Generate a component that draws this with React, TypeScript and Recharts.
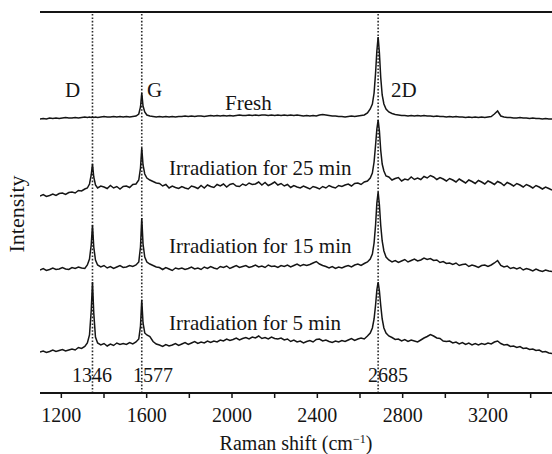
import React from "react";
import { LineChart, Line, XAxis, YAxis, ReferenceLine } from "recharts";

// Raman shift grid (cm^-1)
const wavenumber = [
  1100, 1115, 1130, 1145, 1160, 1175, 1190, 1205, 1220, 1235,
  1250, 1265, 1280, 1295, 1310, 1322, 1332, 1340, 1346, 1352,
  1360, 1370, 1385, 1400, 1415, 1430, 1445, 1460, 1475, 1490,
  1505, 1520, 1535, 1550, 1563, 1571, 1577, 1583, 1591, 1601,
  1615, 1630, 1645, 1660, 1675, 1690, 1705, 1720, 1735, 1750,
  1765, 1780, 1795, 1810, 1825, 1840, 1855, 1870, 1885, 1900,
  1915, 1930, 1945, 1960, 1975, 1990, 2005, 2020, 2035, 2050,
  2065, 2080, 2095, 2110, 2125, 2140, 2155, 2170, 2185, 2200,
  2215, 2230, 2245, 2260, 2275, 2290, 2305, 2320, 2335, 2350,
  2365, 2380, 2395, 2410, 2425, 2440, 2455, 2470, 2485, 2500,
  2515, 2530, 2545, 2560, 2575, 2590, 2605, 2620, 2635, 2648,
  2658, 2666, 2673, 2679, 2685, 2691, 2697, 2704, 2712, 2722,
  2735, 2750, 2765, 2780, 2795, 2810, 2825, 2840, 2855, 2870,
  2885, 2900, 2915, 2930, 2945, 2960, 2975, 2990, 3005, 3020,
  3035, 3050, 3065, 3080, 3095, 3110, 3125, 3140, 3155, 3170,
  3185, 3200, 3215, 3230, 3245, 3260, 3275, 3290, 3305, 3320,
  3335, 3350, 3365, 3380, 3395, 3410, 3425, 3440, 3455, 3470,
  3485, 3500,
];

// Intensity (stacked, arbitrary units)
const fresh = [
  274, 274.5, 274, 275, 274.5, 275, 274.5, 275, 275.5, 275,
  275, 275.5, 275, 275.5, 276, 275.5, 276, 275.5, 276, 275.5,
  276, 275.5, 276, 276.5, 276, 276, 276.5, 276, 276.5, 276,
  276.5, 276, 276.5, 277, 279, 286, 300, 287, 281, 278,
  277, 276.5, 276, 276.5, 276, 276.5, 276, 276.5, 276, 276.5,
  276.5, 277, 276.5, 277, 276.5, 277, 277, 276.5, 277, 277.5,
  277, 277.5, 277, 277.5, 277, 277.5, 277, 277.5, 278, 277.5,
  277.5, 278, 277.5, 278, 277.5, 278, 278, 277.5, 278, 277.5,
  278, 277.5, 278, 277.5, 278, 277.5, 278, 277.5, 277, 277.5,
  277, 277.5, 277, 278, 278.5, 278, 277.5, 277, 277, 276.5,
  276.5, 276, 276.5, 277, 276.5, 277, 277.5, 278, 280, 284,
  289, 300, 320, 342, 356, 340, 316, 298, 289, 284,
  281, 279.5, 278.5, 278, 277.5, 277.5, 277, 277.5, 277, 277.5,
  277, 277.5, 277, 277, 276.5, 277, 276.5, 276.5, 276, 276.5,
  276, 276.5, 276, 276, 275.5, 276, 275.5, 276, 275.5, 276,
  275.5, 276, 276.5, 279, 282, 277, 276, 275.5, 275.5, 275,
  275, 275.5, 275, 275, 274.5, 275, 274.5, 274.5, 274, 274.5,
  274, 274,
];

const irr25 = [
  197, 198.5, 196.5, 197.5, 199, 197.5, 199.5, 200, 198.5, 200.5,
  201, 200, 202.5, 202, 204, 205, 209, 218, 229, 216,
  208, 205, 207, 206, 204.5, 207.5, 205, 206.5, 204, 206.5,
  207, 205.5, 208.5, 209, 213, 225, 245, 228, 219, 215,
  213, 211.5, 210, 209.5, 207, 208.5, 205, 207, 205.5, 204.5,
  206.5, 205, 204, 207, 206, 204.5, 207.5, 205, 208, 206.5,
  205.5, 208.5, 207, 209, 206, 208.5, 209.5, 207, 206.5, 209,
  207.5, 210, 208.5, 209, 211, 208, 210.5, 207.5, 209, 211,
  208, 209.5, 207, 208.5, 205.5, 207.5, 206, 205, 207, 205.5,
  204, 206.5, 205.5, 204, 206.5, 205, 207.5, 206, 205, 207.5,
  206.5, 208, 209, 207, 209.5, 210, 208.5, 211, 212, 215,
  220, 231, 248, 264, 273, 262, 243, 229, 222, 217,
  216, 213, 214.5, 215.5, 212, 214, 213, 216, 213.5, 215,
  213.5, 216.5, 215, 217.5, 216, 213.5, 215.5, 214, 212, 214.5,
  213, 211, 214, 212, 210, 213, 211.5, 209.5, 212.5, 211,
  209, 212, 210.5, 208.5, 211.5, 210, 207.5, 210.5, 209, 207,
  209.5, 208, 206, 208.5, 207, 205, 207.5, 206, 204, 206,
  204.5, 203,
];

const irr15 = [
  123, 124.5, 122.5, 123.5, 125, 123.5, 124, 125.5, 124, 123.5,
  125.5, 124.5, 126, 125, 124.5, 128, 134, 148, 168, 146,
  133, 128, 126, 127.5, 125, 126.5, 124.5, 126, 127.5, 125.5,
  126, 127.5, 126.5, 128, 131, 146, 175, 149, 136, 131,
  129, 127.5, 126, 125.5, 123.5, 125.5, 124, 122.5, 125, 124,
  125, 123.5, 124.5, 126, 124, 125, 123.5, 126, 124.5, 126.5,
  125, 124, 126.5, 125.5, 127, 124.5, 126, 127.5, 125.5, 126.5,
  127.5, 125.5, 126.5, 128, 126, 127, 125.5, 128, 126.5, 127,
  125.5, 127.5, 126.5, 128, 126, 127.5, 129, 127, 128.5, 127.5,
  128.5, 130, 131.5, 129, 127.5, 126.5, 125, 126.5, 124.5, 126,
  125, 126.5, 127.5, 126, 128, 129, 127.5, 129.5, 131, 134,
  139, 150, 168, 190, 201, 188, 168, 152, 142, 136,
  133, 131, 132.5, 130.5, 132, 133.5, 131, 132.5, 134, 132,
  133, 135, 133.5, 134.5, 132.5, 133, 130.5, 131.5, 129.5, 130,
  128.5, 130, 127.5, 128.5, 129, 126.5, 128, 127, 125.5, 127.5,
  128, 126.5, 128, 130, 132.5, 127.5, 126, 127, 124.5, 125.5,
  124, 125.5, 123, 124.5, 123.5, 122, 124, 122.5, 121.5, 123,
  122, 121.5,
];

const irr5 = [
  41, 42, 40.5, 41.5, 43, 41.5, 42.5, 43.5, 42, 43,
  44, 43, 45.5, 44.5, 46.5, 50, 58, 82, 111, 80,
  56, 50, 48, 49.5, 47, 49, 47.5, 50, 48.5, 49.5,
  48.5, 50.5, 49, 51, 54, 67, 93, 70, 60, 58,
  56.5, 51.5, 49, 48, 46.5, 48.5, 47, 48, 49.5, 47.5,
  49, 50.5, 48.5, 50, 51.5, 49.5, 51, 50, 52, 50.5,
  52, 51, 53, 52, 54, 52.5, 53.5, 55, 53, 54.5,
  55.5, 54, 56, 55, 57, 54.5, 55.5, 54, 56, 54.5,
  54, 55, 53, 54, 51.5, 53, 51, 52, 50, 51.5,
  52.5, 51, 53.5, 54, 52, 53, 51.5, 50.5, 52, 51,
  52.5, 51.5, 53, 54.5, 52.5, 54, 55, 54, 57, 60,
  65, 74, 88, 103, 111, 102, 88, 74, 65, 60,
  57, 55.5, 53.5, 54, 52, 53.5, 51.5, 53, 52, 51,
  53, 55, 56.5, 58.5, 57, 55, 54.5, 52, 51.5, 52,
  50, 51, 49, 50.5, 48.5, 50, 48, 49.5, 48, 49.5,
  48.5, 50, 49, 51, 52, 49.5, 48, 48.5, 46.5, 47,
  45.5, 46.5, 44.5, 45, 43.5, 44, 42.5, 43, 41, 41.5,
  40, 39.5,
];

const peakPositions = [1346, 1577, 2685];
const xTicks = [1200, 1400, 1600, 1800, 2000, 2200, 2400, 2600, 2800, 3000, 3200, 3400];
const majorTickStep = 400;

const data = wavenumber.map((x, i) => ({
  x,
  fresh: fresh[i],
  irr25: irr25[i],
  irr15: irr15[i],
  irr5: irr5[i],
}));

const FONT = "'Liberation Serif', 'Times New Roman', serif";
const INK = "#151515";

export default function App() {
  return (
    <div style={{ position: "fixed", left: 0, top: 0, width: 552, height: 454, background: "#fff" }}>
      <LineChart
        width={552}
        height={454}
        data={data}
        margin={{ top: 12, right: 0, bottom: 31, left: 40 }}
      >
        <XAxis
          dataKey="x"
          type="number"
          domain={[1100, 3500]}
          allowDataOverflow
          ticks={xTicks}
          interval={0}
          tickFormatter={(v: number) => (v % majorTickStep === 0 ? String(v) : "")}
          tickSize={5}
          tickMargin={10}
          height={30}
          axisLine={{ stroke: INK, strokeWidth: 2 }}
          tickLine={{ stroke: INK, strokeWidth: 1.5 }}
          tick={{ fill: INK, fontSize: 20, fontFamily: FONT }}
        />
        <YAxis
          type="number"
          domain={[0, 381]}
          allowDataOverflow
          width={0}
          tick={false}
          tickLine={false}
          axisLine={{ stroke: INK, strokeWidth: 2 }}
        />
        <ReferenceLine y={381} stroke={INK} strokeWidth={2} />
        {peakPositions.map((p) => (
          <ReferenceLine
            key={p}
            x={p}
            stroke="#2a2a2a"
            strokeWidth={1.6}
            strokeDasharray="1.6 1.8"
          />
        ))}
        <Line type="linear" dataKey="fresh" stroke={INK} strokeWidth={1.5} dot={false} isAnimationActive={false} />
        <Line type="linear" dataKey="irr25" stroke={INK} strokeWidth={1.5} dot={false} isAnimationActive={false} />
        <Line type="linear" dataKey="irr15" stroke={INK} strokeWidth={1.5} dot={false} isAnimationActive={false} />
        <Line type="linear" dataKey="irr5" stroke={INK} strokeWidth={1.5} dot={false} isAnimationActive={false} />
      </LineChart>
      <svg
        width={552}
        height={454}
        style={{ position: "absolute", left: 0, top: 0, pointerEvents: "none" }}
        fontFamily={FONT}
        fill={INK}
      >
        <text x={65} y={97} fontSize={21}>D</text>
        <text x={147} y={97} fontSize={21}>G</text>
        <text x={391} y={97} fontSize={21}>2D</text>
        <text x={225} y={110} fontSize={21}>Fresh</text>
        <text x={169} y={175} fontSize={21}>Irradiation for 25 min</text>
        <text x={169} y={253} fontSize={21}>Irradiation for 15 min</text>
        <text x={169} y={330} fontSize={21}>Irradiation for 5 min</text>
        <text x={92} y={382} fontSize={20} textAnchor="middle">1346</text>
        <text x={153} y={382} fontSize={20} textAnchor="middle">1577</text>
        <text x={388} y={382} fontSize={20} textAnchor="middle">2685</text>
        <text x={296} y={450} fontSize={20} textAnchor="middle">
          Raman shift (cm<tspan dy={-7} fontSize={12}>−1</tspan><tspan dy={7}>)</tspan>
        </text>
        <text
          x={24}
          y={214}
          fontSize={22}
          textAnchor="middle"
          transform="rotate(-90 24 214)"
        >
          Intensity
        </text>
      </svg>
    </div>
  );
}
